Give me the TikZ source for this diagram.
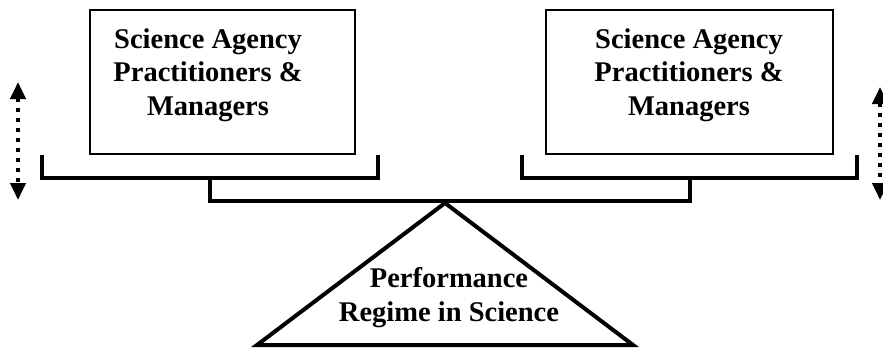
\documentclass[tikz,border=0pt]{standalone}
\usepackage{fontspec}
\setmainfont{Liberation Serif}
\usepackage{tikz}
\usetikzlibrary{arrows.meta,positioning,calc}

\tikzset{
	agentbox/.style={draw, line width=1.5pt, minimum width=265pt, minimum height=144pt, inner sep=0pt},
	label text/.style={align=center, inner sep=0pt, anchor=north, font=\fontsize{28.5}{33.5}\selectfont\bfseries},
	pan/.style={line width=4pt},
	swing/.style={line width=4pt, dash pattern=on 4pt off 6pt, {Triangle[length=17pt,width=15pt]}-{Triangle[length=17pt,width=15pt]}}
}

\begin{document}
\begin{tikzpicture}[x=1pt,y=-1pt]
	\useasboundingbox (0,0) rectangle (883,349);
	% the two boxes resting on the scale
	\node[agentbox] (leftbox) at (222.5,82) {};
	\node[agentbox, minimum width=287pt] (rightbox) at (689.5,82) {};
	\node[label text] (lefttext) at (208,28.5) {Science Agency\\Practitioners \&\\Managers};
	\node[label text] (righttext) at (689,28.5) {Science Agency\\Practitioners \&\\Managers};
	% pans and beam
	\draw [pan] (42,155) -- (42,178) -- (378,178) -- (378,155);
	\draw [pan] (522,155) -- (522,178) -- (857,178) -- (857,155);
	\coordinate (leftstem) at (209.5,201);
	\coordinate (rightstem) at (690,201);
	\draw [pan] (209.5,178) -- (leftstem) -- (rightstem) -- (690,178);
	% fulcrum
	\coordinate (apex) at (445,203);
	\draw [pan, line join=miter] (apex) -- (257,345) -- (633,345) -- cycle;
	\node[label text] (regime) at (449,267.5) {Performance\\Regime in Science};
	% up and down
	\coordinate (lefttop) at (18,82);
	\coordinate (leftbottom) at (18,200);
	\coordinate (righttop) at (880,87);
	\coordinate (rightbottom) at (880,200);
	\draw [swing] (lefttop) -- (leftbottom);
	\draw [swing] (righttop) -- (rightbottom);
\end{tikzpicture}
\end{document}
